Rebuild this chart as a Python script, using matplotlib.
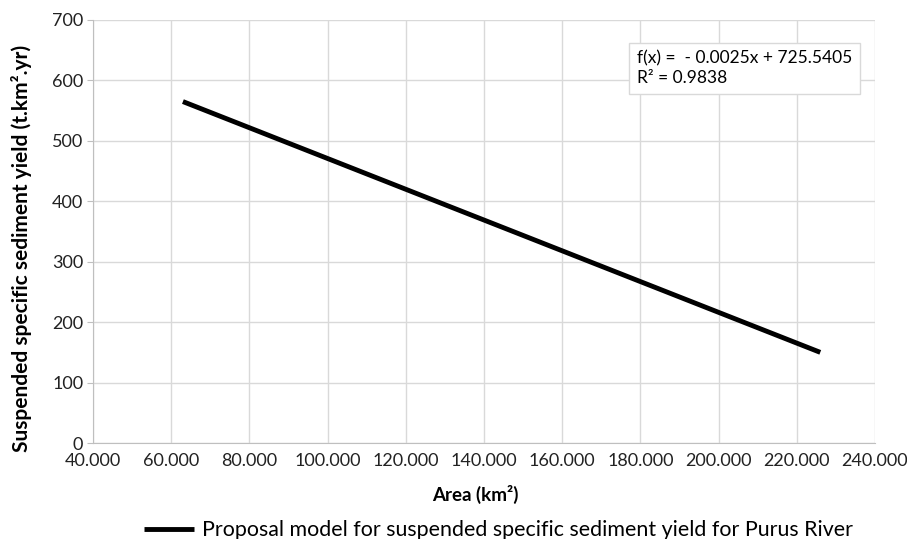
import matplotlib
matplotlib.use("Agg")
import matplotlib.pyplot as plt
from matplotlib.ticker import FuncFormatter

plt.rcParams['font.family'] = ['Lato', 'DejaVu Sans']

area = [63000, 226000]
yield_vals = [565, 150]
x_ticks = list(range(40000, 240001, 20000))
y_ticks = list(range(0, 701, 100))
equation = "f(x) =  - 0.0025x + 725.5405\nR² = 0.9838"
legend_label = "Proposal model for suspended specific sediment yield for Purus River"

fig = plt.figure(figsize=(9.07, 5.39), dpi=100)
ax = fig.add_axes([93/907, 1-443/539, (875-93)/907, (443-20)/539])

line, = ax.plot(area, yield_vals, color='black', lw=3.5, solid_capstyle='butt',
                label=legend_label, zorder=3)

ax.set_xlim(40000, 240000)
ax.set_ylim(0, 700)
ax.set_xticks(x_ticks)
ax.set_yticks(y_ticks)
ax.xaxis.set_major_formatter(FuncFormatter(lambda v, p: f"{int(v):,}".replace(",", ".")))
ax.grid(True, color='#d9d9d9', lw=1)
ax.set_axisbelow(True)
for s in ['top', 'right']:
    ax.spines[s].set_visible(False)
for s in ['left', 'bottom']:
    ax.spines[s].set_color('#bfbfbf')
ax.tick_params(axis='both', colors='#bfbfbf', labelcolor='#222222', labelsize=13)
ax.tick_params(axis='y', length=4, pad=3)
ax.tick_params(axis='x', length=0, pad=7)

ax.set_xlabel("Area (km²)", fontsize=13.5, fontweight='bold', va='center')
ax.xaxis.set_label_coords((475-93)/782, -(494-443)/423)
ax.set_ylabel("Suspended specific sediment yield (t.km².yr)", fontsize=15,
              fontweight='bold', va='center')
ax.yaxis.set_label_coords(-(93-22)/782, (443-248)/423)

ax.text(0.696, 0.928, equation, transform=ax.transAxes, fontsize=12.5, va='top', ha='left',
        linespacing=1.3,
        bbox=dict(boxstyle='square,pad=0.45', fc='white', ec='#d9d9d9', lw=1))

leg = fig.legend(handles=[line], loc='center', bbox_to_anchor=(0.55, 1-530/539), frameon=False,
                 fontsize=15.4, handlelength=2.3, handletextpad=0.4)

fig.savefig("out.png", dpi=100)
